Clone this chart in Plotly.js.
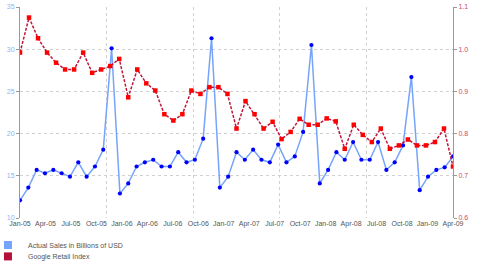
<!DOCTYPE html>
<html><head><meta charset="utf-8">
<script src="https://cdn.plot.ly/plotly-3.0.1.min.js"></script>
<style>html,body{margin:0;padding:0;background:#fff}#chart{width:480px;height:270px}</style>
</head><body><div id="chart"></div>
<script>
const tickLabels = ['Jan-05','Apr-05','Jul-05','Oct-05','Jan-06','Apr-06','Jul-06','Oct-06','Jan-07',
  'Apr-07','Jul-07','Oct-07','Jan-08','Apr-08','Jul-08','Oct-08','Jan-09','Apr-09'];

// Actual sales, monthly Jan-05 .. May-09 (billions of USD)
const salesValues = [
  12.1, 13.6, 15.7, 15.3, 15.7, 15.3, 14.9, 16.6, 14.9, 16.1, 18.1, 30.1,
  12.9, 14.1, 16.1, 16.6, 16.9, 16.1, 16.1, 17.8, 16.6, 16.9, 19.4, 31.3,
  13.6, 14.9, 17.8, 16.9, 18.1, 16.9, 16.6, 18.7, 16.6, 17.3, 20.2, 30.5,
  14.1, 15.7, 17.8, 16.9, 19.0, 16.9, 16.9, 19.0, 15.7, 16.6, 18.6, 26.7,
  13.3, 14.9, 15.7, 16.0, 17.3
];

// Google Retail Index (right axis)
const indexValues = [
  0.992, 1.075, 1.026, 0.992, 0.968, 0.952, 0.952, 0.992, 0.944, 0.952, 0.960, 0.977,
  0.886, 0.952, 0.919, 0.902, 0.846, 0.831, 0.846, 0.902, 0.894, 0.910, 0.910, 0.894,
  0.812, 0.877, 0.846, 0.812, 0.828, 0.787, 0.804, 0.835, 0.821, 0.821, 0.836, 0.829,
  0.764, 0.821, 0.797, 0.780, 0.812, 0.764, 0.772, 0.786, 0.772, 0.772, 0.780, 0.812, 0.722
];

const salesName = 'Actual Sales in Billions of USD';
const indexName = 'Google Retail Index';
const FONT = 'Liberation Sans, Arial, sans-serif';

const salesX = salesValues.map((_, i) => i);
const indexX = indexValues.map((_, i) => i);
const salesSpan = salesValues.length - 1;
const indexSpan = indexValues.length - 1;
const tickVals = tickLabels.map((_, i) => i * salesSpan / (tickLabels.length - 1));

const traces = [
  {x: salesX, y: salesValues, type: 'scatter', mode: 'lines+markers', xaxis: 'x', yaxis: 'y',
   line: {color: '#76A4FB', width: 1.5}, marker: {color: '#0000FF', size: 4.2},
   showlegend: false, hoverinfo: 'skip'},
  {x: indexX, y: indexValues, type: 'scatter', mode: 'lines+markers', xaxis: 'x2', yaxis: 'y2',
   line: {color: '#C0163E', width: 1.5, dash: '3px,1.5px'},
   marker: {color: '#FF0000', size: 4.5, symbol: 'square'},
   showlegend: false, hoverinfo: 'skip'},
  {x: [null], y: [null], type: 'scatter', mode: 'markers', name: salesName, legend: 'legend',
   marker: {symbol: 'square', size: 8, color: '#76A4FB'}, hoverinfo: 'skip'},
  {x: [null], y: [null], type: 'scatter', mode: 'markers', name: indexName, legend: 'legend2',
   marker: {symbol: 'square', size: 8, color: '#B5103A'}, hoverinfo: 'skip'}
];

const gridStyle = {gridcolor: '#d0d0d0', gridwidth: 1, griddash: '3px,3px'};
const legendBase = {xanchor: 'left', yanchor: 'middle', bgcolor: 'rgba(0,0,0,0)', borderwidth: 0,
  font: {family: FONT, size: 7, color: '#555555'}, itemwidth: 30};

const layout = {
  width: 480, height: 270,
  margin: {l: 20, r: 27, t: 7, b: 52, pad: 0, autoexpand: false},
  paper_bgcolor: '#ffffff', plot_bgcolor: '#ffffff',
  font: {family: FONT, size: 7, color: '#555555'},
  xaxis: {range: [0, salesSpan], tickmode: 'array', tickvals: tickVals, ticktext: tickLabels,
    showgrid: false, zeroline: false, showline: false, ticks: '',
    tickfont: {family: FONT, size: 7, color: '#555555'}, fixedrange: true},
  xaxis2: Object.assign({range: [0, indexSpan], overlaying: 'x', anchor: 'y', showticklabels: false,
    ticks: '', tickmode: 'linear', tick0: 0, dtick: indexSpan / 5, showgrid: true,
    zeroline: false, showline: false, fixedrange: true}, gridStyle),
  yaxis: Object.assign({range: [10, 35], tickmode: 'linear', tick0: 10, dtick: 5, showgrid: true,
    zeroline: false, showline: true, linecolor: '#999999', linewidth: 1,
    ticks: 'outside', ticklen: 3, tickcolor: '#999999',
    tickfont: {family: FONT, size: 7, color: '#8FB2F5'}, fixedrange: true}, gridStyle),
  yaxis2: {range: [0.6, 1.1], overlaying: 'y', side: 'right', anchor: 'x', tickmode: 'linear',
    tick0: 0.6, dtick: 0.1, tickformat: '.1f', showgrid: false, zeroline: false,
    showline: true, linecolor: '#999999', linewidth: 1, ticks: 'outside', ticklen: 3,
    tickcolor: '#999999', tickfont: {family: FONT, size: 7, color: '#D0486A'}, fixedrange: true},
  legend: Object.assign({x: -0.074, y: -0.128}, legendBase),
  legend2: Object.assign({x: -0.074, y: -0.182}, legendBase),
  showlegend: true
};

Plotly.newPlot('chart', traces, layout, {displayModeBar: false, staticPlot: true});
</script></body></html>
